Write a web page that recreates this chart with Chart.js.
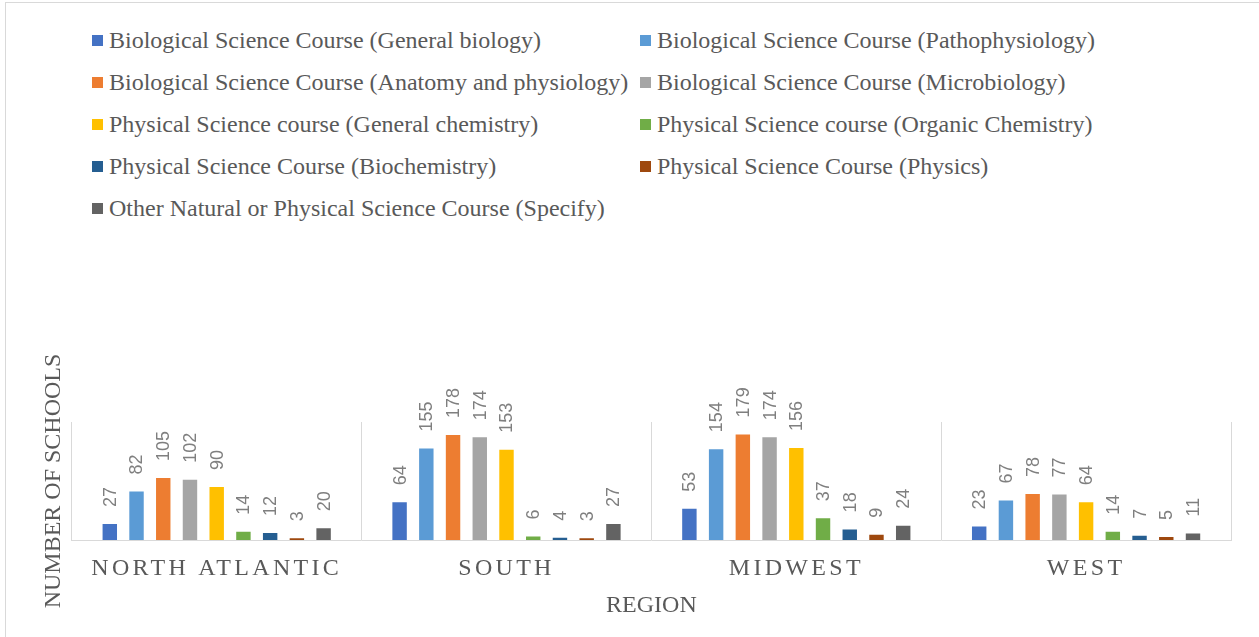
<!DOCTYPE html>
<html>
<head>
<meta charset="utf-8">
<script src="https://cdn.jsdelivr.net/npm/chart.js@4/dist/chart.umd.min.js"></script>
<style>
  html, body { margin: 0; padding: 0; background: #fff; }
  #wrap { position: relative; width: 1259px; height: 637px; overflow: hidden; }
  #frame { position: absolute; left: 5px; top: 2px; width: 1300px; height: 700px; border: 1px solid #d9d9d9; }
  #legend { position: absolute; left: 92px; top: 19px; display: grid; grid-template-columns: 548px 560px; grid-auto-rows: 42px;
            font-family: "Liberation Serif", "Times New Roman", serif; font-size: 24px; color: #595959; }
  #legend .item { display: flex; align-items: center; white-space: nowrap; }
  #legend .box { width: 11px; height: 11px; margin-right: 6px; flex: none; }
  canvas { position: absolute; left: 0; top: 0; }
</style>
</head>
<body>
<div id="wrap">
  <div id="frame"></div>
  <div id="legend"></div>
  <canvas id="chart" width="1259" height="637"></canvas>
</div>
<script>
// Regionen
const regions = ['NORTH ATLANTIC', 'SOUTH', 'MIDWEST', 'WEST'];

// Kurse (Serien)
const courseNames = [
    'Biological Science Course (General biology)',
    'Biological Science Course (Pathophysiology)',
    'Biological Science Course (Anatomy and physiology)',
    'Biological Science Course (Microbiology)',
    'Physical Science course (General chemistry)',
    'Physical Science course (Organic Chemistry)',
    'Physical Science Course (Biochemistry)',
    'Physical Science Course (Physics)',
    'Other Natural or Physical Science Course (Specify)'
];

const courseColors = ['#4472C4', '#5B9BD5', '#ED7D31', '#A5A5A5', '#FFC000', '#70AD47', '#255E91', '#9E480E', '#636363'];

// Anzahl Schulen je Region
const generalBiology   = [27, 64, 53, 23];
const pathophysiology  = [82, 155, 154, 67];
const anatomyPhysiology = [105, 178, 179, 78];
const microbiology     = [102, 174, 174, 77];
const generalChemistry = [90, 153, 156, 64];
const organicChemistry = [14, 6, 37, 14];
const biochemistry     = [12, 4, 18, 7];
const physics          = [3, 3, 9, 5];
const otherScience     = [20, 27, 24, 11];

const seriesValues = [generalBiology, pathophysiology, anatomyPhysiology, microbiology,
    generalChemistry, organicChemistry, biochemistry, physics, otherScience];

const serif = '"Liberation Serif", "Times New Roman", serif';

// Legende als HTML
const legendEl = document.getElementById('legend');
courseNames.forEach((name, i) => {
    const item = document.createElement('div');
    item.className = 'item';
    const box = document.createElement('span');
    box.className = 'box';
    box.style.background = courseColors[i];
    item.appendChild(box);
    item.appendChild(document.createTextNode(name));
    legendEl.appendChild(item);
});

// Werte über den Balken, um 90° gedreht
const barLabels = {
    id: 'barLabels',
    afterDatasetsDraw(chart) {
        const ctx = chart.ctx;
        ctx.save();
        ctx.font = '18px "Liberation Sans", Arial, sans-serif';
        ctx.fillStyle = '#7f7f7f';
        ctx.textAlign = 'left';
        ctx.textBaseline = 'middle';
        chart.data.datasets.forEach((ds, di) => {
            chart.getDatasetMeta(di).data.forEach((bar, i) => {
                ctx.save();
                ctx.translate(bar.x, bar.y - 17);
                ctx.rotate(-Math.PI / 2);
                ctx.fillText(String(ds.data[i]), 0, 1);
                ctx.restore();
            });
        });
        ctx.restore();
    }
};

// Sperrschrift für die Regionsnamen
const spacedTicks = {
    id: 'spacedTicks',
    beforeDraw(chart) {
        const xs = chart.scales.x;
        if (!xs || xs._spaced) return;
        const orig = xs.drawLabels;
        xs.drawLabels = function (area) {
            const ctx = this.ctx;
            ctx.save();
            ctx.letterSpacing = '3.3px';
            orig.call(this, area);
            ctx.restore();
        };
        xs._spaced = true;
    }
};

new Chart(document.getElementById('chart'), {
    type: 'bar',
    data: {
        labels: regions,
        datasets: courseNames.map((name, i) => ({
            label: name,
            data: seriesValues[i],
            backgroundColor: courseColors[i],
            categoryPercentage: 0.83,
            barPercentage: 0.54
        }))
    },
    options: {
        responsive: false,
        animation: false,
        layout: { padding: { left: 35, right: 28, top: 422, bottom: 17 } },
        plugins: {
            legend: { display: false },
            tooltip: { enabled: false }
        },
        scales: {
            x: {
                afterFit: (scale) => { scale.height = 80; },
                grid: { display: true, offset: true, color: '#d9d9d9', drawTicks: false },
                border: { color: '#d9d9d9' },
                ticks: { color: '#595959', font: { family: serif, size: 24 }, padding: 14, maxRotation: 0, autoSkip: false },
                title: { display: true, text: 'REGION', color: '#595959', font: { family: serif, size: 24 }, padding: { top: 0, bottom: 0 } }
            },
            y: {
                min: 0,
                max: 200,
                grid: { display: false, drawTicks: false },
                border: { display: false },
                ticks: { display: false, padding: 0 },
                title: { display: true, text: 'NUMBER OF SCHOOLS', color: '#595959', font: { family: serif, size: 24 } }
            }
        }
    },
    plugins: [barLabels, spacedTicks]
});
</script>
</body>
</html>
